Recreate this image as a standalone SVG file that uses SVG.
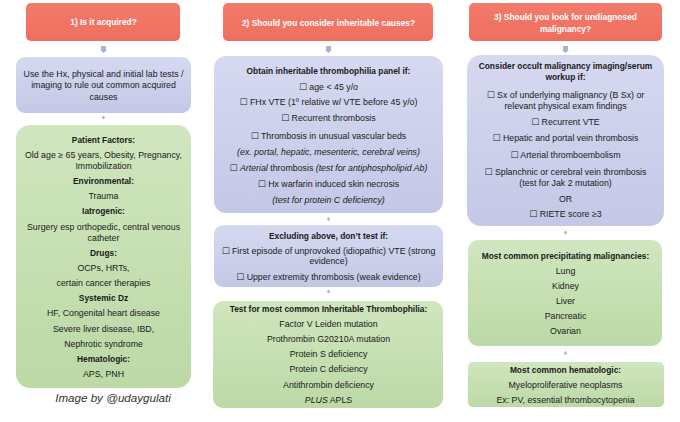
<svg xmlns="http://www.w3.org/2000/svg" width="680" height="422" viewBox="0 0 680 422">
<defs>
<linearGradient id="gb" x1="0" y1="0" x2="0" y2="1"><stop offset="0" stop-color="#D6D9F0"/><stop offset="1" stop-color="#C4C8E6"/></linearGradient>
<linearGradient id="gg" x1="0" y1="0" x2="0" y2="1"><stop offset="0" stop-color="#D0E6BF"/><stop offset="1" stop-color="#BCD9A6"/></linearGradient>
<linearGradient id="gr" x1="0" y1="0" x2="0" y2="1"><stop offset="0" stop-color="#F37B6B"/><stop offset="1" stop-color="#EE6E5E"/></linearGradient>
<symbol id="arr" viewBox="0 0 6 7" overflow="visible"><path d="M1,0 H5 V4 H6 L3,7 L0,4 H1 Z"/></symbol>
</defs>
<style>
text{font-family:"Liberation Sans",Arial,"DejaVu Sans",sans-serif;font-size:8.8px;fill:#1a1a1a;text-anchor:middle}
.b{font-weight:bold;font-size:8.4px}
.i{font-style:italic}
.t{font-weight:bold;font-size:8.4px;fill:#fff}
.red{fill:url(#gr)}
.blue{fill:url(#gb)}
.green{fill:url(#gg)}
.con path{fill:#A9B2D6}
.cred{font-style:italic;font-size:11.6px;fill:#333}
</style>
<rect width="680" height="422" fill="#fff"/>

<g id="connectors" class="con">
<path d="M101,46 H106 V50 H107 L103.5,53 L100,50 H101 Z"/>
<path d="M102.5,116 H104.5 V117.5 H105.5 L103.5,119.5 L101.5,117.5 H102.5 Z"/>
<path d="M326,46 H331 V50 H332 L328.5,53 L325,50 H326 Z"/>
<path d="M327.5,217.5 H329.5 V219 H330.5 L328.5,221 L326.5,219 H327.5 Z"/>
<path d="M327.5,290 H329.5 V291.5 H330.5 L328.5,293.5 L326.5,291.5 H327.5 Z"/>
<path d="M563,46 H568 V50 H569 L565.5,53 L562,50 H563 Z"/>
<path d="M564.5,231 H566.5 V232.5 H567.5 L565.5,234.5 L563.5,232.5 H564.5 Z"/>
<path d="M564.5,351.5 H566.5 V353 H567.5 L565.5,355 L563.5,353 H564.5 Z"/>
</g>

<g id="n1-title">
<rect class="red" x="26" y="3" width="154" height="38" rx="5"/>
<text class="t" x="103.5" y="25">1) Is it acquired?</text>
</g>
<g id="n1-rule">
<rect class="blue" x="16" y="57" width="175" height="56" rx="9"/>
<text x="103.5" y="76.5">Use the Hx, physical and initial lab tests /</text>
<text x="103.5" y="88">imaging to rule out common acquired</text>
<text x="103.5" y="99.5">causes</text>
</g>
<g id="n1-factors">
<rect class="green" x="16" y="125" width="175" height="263" rx="14"/>
<text class="b" x="103.5" y="142.5">Patient Factors:</text>
<text x="103.5" y="158">Old age ≥ 65 years, Obesity, Pregnancy,</text>
<text x="103.5" y="168.5">Immobilization</text>
<text class="b" x="103.5" y="184">Environmental:</text>
<text x="103.5" y="199">Trauma</text>
<text class="b" x="103.5" y="214">Iatrogenic:</text>
<text x="103.5" y="230">Surgery esp orthopedic, central venous</text>
<text x="103.5" y="240.5">catheter</text>
<text class="b" x="103.5" y="255.5">Drugs:</text>
<text x="103.5" y="271">OCPs, HRTs,</text>
<text x="103.5" y="286">certain cancer therapies</text>
<text class="b" x="103.5" y="301">Systemic Dz</text>
<text x="103.5" y="316">HF, Congenital heart disease</text>
<text x="103.5" y="331.5">Severe liver disease, IBD,</text>
<text x="103.5" y="346.5">Nephrotic syndrome</text>
<text class="b" x="103.5" y="362">Hematologic:</text>
<text x="103.5" y="377">APS, PNH</text>
</g>
<text class="cred" x="113" y="402">Image by @udaygulati</text>

<g id="n2-title">
<rect class="red" x="223" y="3" width="210" height="38" rx="5"/>
<text class="t" x="328.5" y="26">2) Should you consider inheritable causes?</text>
</g>
<g id="n2-panel">
<rect class="blue" x="214" y="56" width="229" height="157" rx="12"/>
<text class="b" x="328.5" y="74">Obtain inheritable thrombophilia panel if:</text>
<text x="328.5" y="89.5">☐ age &lt; 45 y/o</text>
<text x="328.5" y="104.5">☐ FHx VTE (1º relative w/ VTE before 45 y/o)</text>
<text x="328.5" y="120.5">☐ Recurrent thrombosis</text>
<text x="328.5" y="139">☐ Thrombosis in unusual vascular beds</text>
<text class="i" x="328.5" y="155">(ex. portal, hepatic, mesenteric, cerebral veins)</text>
<text x="328.5" y="171">☐ <tspan class="i">Arterial</tspan> thrombosis <tspan class="i">(test for antiphospholipid Ab)</tspan></text>
<text x="328.5" y="186.5">☐ Hx warfarin induced skin necrosis</text>
<text class="i" x="328.5" y="203">(test for protein C deficiency)</text>
</g>
<g id="n2-exclude">
<rect class="blue" x="214" y="225" width="229" height="62" rx="9"/>
<text class="b" x="328.5" y="238.5">Excluding above, don’t test if:</text>
<text x="328.5" y="254">☐ First episode of unprovoked (idiopathic) VTE (strong</text>
<text x="328.5" y="264">evidence)</text>
<text x="328.5" y="280">☐ Upper extremity thrombosis (weak evidence)</text>
</g>
<g id="n2-tests">
<rect class="green" x="213" y="301" width="230" height="107" rx="10"/>
<text class="b" x="328.5" y="311.5">Test for most common Inheritable Thrombophilia:</text>
<text x="328.5" y="327">Factor V Leiden mutation</text>
<text x="328.5" y="342">Prothrombin G20210A mutation</text>
<text x="328.5" y="357">Protein S deficiency</text>
<text x="328.5" y="372">Protein C deficiency</text>
<text x="328.5" y="387.5">Antithrombin deficiency</text>
<text x="328.5" y="402.5"><tspan class="i">PLUS</tspan> APLS</text>
</g>

<g id="n3-title">
<rect class="red" x="469" y="3" width="193" height="38" rx="5"/>
<text class="t" x="565.5" y="20">3) Should you look for undiagnosed</text>
<text class="t" x="565.5" y="31.5">malignancy?</text>
</g>
<g id="n3-workup">
<rect class="blue" x="467" y="55" width="197" height="171" rx="14"/>
<text class="b" x="565.5" y="69">Consider occult malignancy imaging/serum</text>
<text class="b" x="565.5" y="79.5">workup if:</text>
<text x="565.5" y="97.5">☐ Sx of underlying malignancy (B Sx) or</text>
<text x="565.5" y="108.5">relevant physical exam findings</text>
<text x="565.5" y="125">☐ Recurrent VTE</text>
<text x="565.5" y="141">☐ Hepatic and portal vein thrombosis</text>
<text x="565.5" y="157.5">☐ Arterial thromboembolism</text>
<text x="565.5" y="175">☐ Splanchnic or cerebral vein thrombosis</text>
<text x="565.5" y="185.5">(test for Jak 2 mutation)</text>
<text x="565.5" y="201.5">OR</text>
<text x="565.5" y="217">☐ RIETE score ≥3</text>
</g>
<g id="n3-malig">
<rect class="green" x="468" y="240" width="194" height="106" rx="10"/>
<text class="b" x="565.5" y="259">Most common precipitating malignancies:</text>
<text x="565.5" y="274">Lung</text>
<text x="565.5" y="289">Kidney</text>
<text x="565.5" y="304">Liver</text>
<text x="565.5" y="319">Pancreatic</text>
<text x="565.5" y="334">Ovarian</text>
</g>
<g id="n3-heme">
<rect class="green" x="468" y="362" width="196" height="45" rx="5"/>
<text class="b" x="565.5" y="372.5">Most common hematologic:</text>
<text x="565.5" y="387.5">Myeloproliferative neoplasms</text>
<text x="565.5" y="402.5">Ex: PV, essential thrombocytopenia</text>
</g>
</svg>
